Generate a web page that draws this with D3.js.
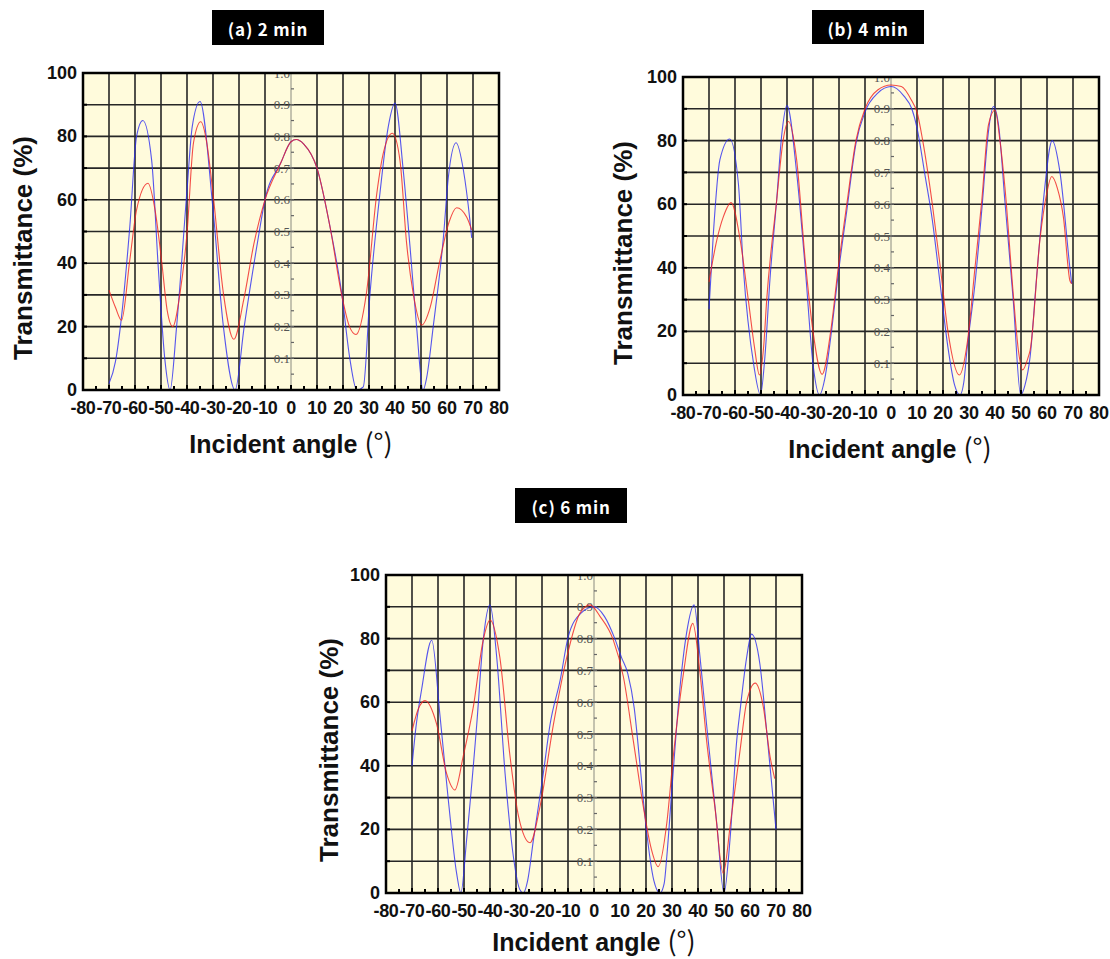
<!DOCTYPE html>
<html>
<head>
<meta charset="utf-8">
<script src="https://cdn.jsdelivr.net/npm/d3@7"></script>
<style>
  body { margin: 0; background: #fff; }
  svg { display: block; }
</style>
</head>
<body>
<svg id="chart" width="1110" height="959"></svg>
<script>
// axis ticks
const xTicks = [-80, -70, -60, -50, -40, -30, -20, -10, 0, 10, 20, 30, 40, 50, 60, 70, 80];
const yTicks = [0, 20, 40, 60, 80, 100];
const innerTicks = [0.1, 0.2, 0.3, 0.4, 0.5, 0.6, 0.7, 0.8, 0.9, 1.0];

// (a) 2 min
const angleA_blue = [-70, -67.5, -65.2, -62, -59.4, -57, -53.6, -51, -48.5, -46.5, -44, -40, -38, -35, -30, -26, -21.5, -18, -13, -10, -4, 0, 2, 5, 10, 15, 19.5, 22.7, 25.3, 27.8, 30.4, 34.2, 37.4, 40, 43.2, 45.8, 48.3, 50.8, 52.2, 54.7, 58.6, 60.5, 63.5, 66.3, 68.8, 69.5];
const transA_blue = [2, 9, 23, 51.5, 80, 85, 72.5, 38, 9.5, 0, 20, 63, 83, 91, 57, 20, 0, 20, 46, 60, 71.5, 78.3, 79, 77.5, 70, 51.5, 30.5, 9.5, 0, 1, 30.5, 62, 83, 90.5, 69, 45, 20, 0, 4, 20, 48, 67, 78, 69.4, 53.6, 48];
const angleA_red = [-70, -67.5, -65.2, -62, -59.4, -55, -52.3, -49.8, -47.6, -45.5, -42.7, -40, -37.5, -34.7, -32.4, -30, -26, -22, -18.2, -14.3, -10, -4, 0, 2, 5, 10, 15, 19.5, 22.5, 25, 29, 33, 35.5, 39, 41.9, 44.5, 47, 50.3, 53.5, 57.3, 60.8, 63.7, 67.6, 69.5];
const transA_red = [31.5, 26, 22, 41, 56.8, 65.2, 56.8, 41, 25, 20, 30.5, 49.4, 78, 84.6, 78, 62, 30.5, 16, 28.4, 46, 60, 71.5, 78.3, 79, 77.5, 70, 51.5, 30, 20, 17.5, 30.5, 62, 74.7, 81, 72.5, 46, 30.5, 20.5, 26, 41, 53, 57.5, 54.5, 50.5];

// (b) 4 min
const angleB_blue = [-70, -68.3, -65.8, -62, -58.7, -56.8, -52.7, -50.2, -48.5, -46.5, -44, -42, -40, -36.3, -33, -29.9, -27.5, -25.5, -23.2, -20.3, -17, -13.5, -10, -5, 0, 5, 8, 10, 13.1, 15.9, 18.5, 21.9, 24.5, 26.5, 28, 29.2, 32.3, 34.9, 37.5, 39.4, 41.5, 43.8, 47, 49.9, 51.5, 53.5, 56, 58.6, 62, 65, 68.8, 69.5];
const transB_blue = [27, 51, 74, 80.5, 66.5, 40, 9, 0, 12, 37, 61, 82, 91, 70, 40, 9, 0, 5, 18, 38, 58, 79, 89, 95, 97, 94, 90, 84, 69, 55, 37.7, 15, 3, 0, 4, 14, 35, 58, 83, 90.7, 84, 61, 30, 0, 3, 12, 37, 61, 80, 70, 40, 35];
const angleB_red = [-70, -67, -64.5, -61.5, -58, -54.9, -52.5, -50.6, -49, -47.8, -44, -41.5, -39.5, -36.3, -33, -30, -26.5, -23.2, -20.3, -17, -13.5, -10, -5, 0, 4, 8, 10, 12.2, 15.9, 19, 21.9, 26.3, 29.4, 32.3, 34.9, 37.5, 40, 41.9, 43.8, 47, 49, 50.6, 52.8, 53.5, 57.3, 59.9, 61.8, 64, 66.3, 68.8, 69.5];
const transB_red = [35.6, 48.7, 56, 60.5, 48.7, 30, 15, 6.3, 15, 30, 61, 80, 86, 74, 42.5, 20, 6.5, 20, 40, 60, 80, 90, 96, 97.5, 97, 92.5, 89, 80, 60, 40, 20, 6.3, 16.8, 40, 61, 85, 89.6, 80, 65.5, 32, 14, 7.9, 12, 14, 49, 63.4, 68.7, 65, 56, 36, 35];

// (c) 6 min
const angleC_blue = [-70, -68.5, -66.3, -62.4, -59.2, -56, -52.8, -51.2, -49, -45.1, -42.6, -40, -37.4, -34.2, -31, -28.5, -27.2, -25.5, -23.3, -19.5, -16.9, -13, -9.9, -5, 0, 4, 8, 10.6, 13, 15.5, 17.5, 20, 23, 25.4, 27, 28, 29.9, 33, 35.6, 38.5, 40.8, 43.3, 47.2, 50, 52.3, 54.9, 56.2, 58.7, 60.6, 63.8, 66.4, 70];
const transC_blue = [40, 52, 64, 79.5, 55.5, 29, 6, 0, 16.7, 53, 79.6, 90.6, 74, 37.6, 11.4, 1, 0, 4, 16.7, 37.6, 53, 67, 80.6, 88, 90, 87, 80, 74, 69, 58, 42, 21, 4, 0, 3, 11.4, 32, 64, 81.7, 90.6, 74, 53, 22, 0, 16.7, 48, 57.5, 74, 81.4, 72, 51, 20];
const angleC_red = [-70, -67.5, -65, -60.5, -56.7, -53.5, -50.3, -46.4, -42.6, -40, -36.2, -32.3, -29, -24.6, -20.8, -15.6, -10.5, -5.4, -1.5, 2.3, 7.4, 11.3, 15.1, 19, 22, 24.7, 28, 30.5, 34.4, 38, 40.8, 43.3, 46.5, 49.7, 52.5, 56.2, 58.7, 62, 65.1, 67.7, 69.5];
const transC_red = [51, 58, 60.5, 53, 37.6, 32.4, 43, 58.6, 79.6, 85.8, 74, 43, 24, 15.8, 27, 53, 74, 88, 90.6, 87, 79.6, 68, 48, 27, 14, 8.3, 22, 43, 69, 84.8, 69, 48, 27, 6.2, 22, 45, 60, 66, 58.6, 43, 36];

const panels = [
  { id: 'a', title: '(a) 2 min', left: 83, right: 499, top: 73, bottom: 390,
    box: [212, 10, 112, 35], yLabel: [23, 248], xLabel: [291, 453],
    blue: [angleA_blue, transA_blue], red: [angleA_red, transA_red] },
  { id: 'b', title: '(b) 4 min', left: 683, right: 1099, top: 77, bottom: 395,
    box: [812, 10, 112, 34], yLabel: [623, 253], xLabel: [890, 458],
    blue: [angleB_blue, transB_blue], red: [angleB_red, transB_red] },
  { id: 'c', title: '(c) 6 min', left: 386, right: 802, top: 575, bottom: 893,
    box: [515, 488, 112, 35], yLabel: [329, 750], xLabel: [594, 951],
    blue: [angleC_blue, transC_blue], red: [angleC_red, transC_red] }
];

const svg = d3.select('#chart');
const boldFont = '"Liberation Sans", Arial, sans-serif';

panels.forEach(drawPanel);

function drawPanel(p) {
  const x = d3.scaleLinear().domain([-80, 80]).range([p.left, p.right]);
  const y = d3.scaleLinear().domain([0, 100]).range([p.bottom, p.top]);
  const w = p.right - p.left, h = p.bottom - p.top;
  const g = svg.append('g');

  // title box
  g.append('rect')
    .attr('x', p.box[0]).attr('y', p.box[1])
    .attr('width', p.box[2]).attr('height', p.box[3])
    .attr('fill', '#000');
  g.append('text')
    .attr('x', p.box[0] + p.box[2] / 2)
    .attr('y', p.box[1] + p.box[3] / 2 + 1)
    .attr('text-anchor', 'middle')
    .attr('dominant-baseline', 'central')
    .style('font-family', '"Noto Sans CJK KR", "Noto Sans", sans-serif')
    .style('font-weight', 'bold')
    .style('font-size', '17px')
    .style('letter-spacing', '0.8px')
    .style('fill', '#fff')
    .text(p.title);

  // plot background
  g.append('rect')
    .attr('x', p.left).attr('y', p.top)
    .attr('width', w).attr('height', h)
    .attr('fill', '#fffbdc');

  const clipId = 'clip-' + p.id;
  svg.append('clipPath').attr('id', clipId)
    .append('rect')
    .attr('x', p.left).attr('y', p.top)
    .attr('width', w).attr('height', h);

  // grid
  const gridX = d3.range(-70, 71, 10).filter(d => d !== 0);
  const gridY = d3.range(10, 91, 10);
  g.append('g').selectAll('line').data(gridX).enter().append('line')
    .attr('x1', d => x(d)).attr('x2', d => x(d))
    .attr('y1', p.top).attr('y2', p.bottom)
    .attr('stroke', '#262626').attr('stroke-width', 1.6);
  g.append('g').selectAll('line').data(gridY).enter().append('line')
    .attr('x1', p.left).attr('x2', p.right)
    .attr('y1', d => y(d)).attr('y2', d => y(d))
    .attr('stroke', '#262626').attr('stroke-width', 1.6);

  // inner fraction axis at 0 degrees
  const inner = g.append('g').attr('clip-path', `url(#${clipId})`);
  inner.append('line')
    .attr('x1', x(0)).attr('x2', x(0))
    .attr('y1', p.top).attr('y2', p.bottom)
    .attr('stroke', '#8a8a80').attr('stroke-width', 1);
  inner.selectAll('line.it').data(d3.range(0.05, 1.0, 0.05)).enter().append('line')
    .attr('x1', x(0)).attr('x2', x(0) + 3)
    .attr('y1', d => y(d * 100)).attr('y2', d => y(d * 100))
    .attr('stroke', '#666').attr('stroke-width', 1.2);
  inner.selectAll('text').data(innerTicks).enter().append('text')
    .attr('x', x(0) - 1)
    .attr('y', d => y(d * 100))
    .attr('text-anchor', 'end')
    .attr('dominant-baseline', 'central')
    .style('font-family', '"Liberation Serif", "DejaVu Serif", serif')
    .style('font-size', '13px')
    .style('fill', '#555')
    .text(d => d.toFixed(1));

  // curves
  const line = d3.line()
    .x(d => x(d[0]))
    .y(d => y(d[1]))
    .curve(d3.curveMonotoneX);
  const curves = g.append('g').attr('clip-path', `url(#${clipId})`);
  const series = [
    { data: d3.zip(p.blue[0], p.blue[1]), color: '#2b2bf0' },
    { data: d3.zip(p.red[0], p.red[1]), color: '#f02020' }
  ];
  curves.selectAll('path').data(series).enter().append('path')
    .attr('d', d => line(d.data))
    .attr('fill', 'none')
    .attr('stroke', d => d.color)
    .attr('stroke-width', 1.1)
    .attr('stroke-opacity', 0.8);

  // frame
  g.append('rect')
    .attr('x', p.left).attr('y', p.top)
    .attr('width', w).attr('height', h)
    .attr('fill', 'none')
    .attr('stroke', '#000').attr('stroke-width', 2.5);

  // inward ticks
  g.append('g').selectAll('line').data(d3.range(-80, 81, 5)).enter().append('line')
    .attr('x1', d => x(d)).attr('x2', d => x(d))
    .attr('y1', p.bottom).attr('y2', d => p.bottom - (d % 10 === 0 ? 5 : 4))
    .attr('stroke', '#000').attr('stroke-width', 2);
  g.append('g').selectAll('line').data(d3.range(0, 101, 10)).enter().append('line')
    .attr('x1', p.left).attr('x2', p.left + 4)
    .attr('y1', d => y(d)).attr('y2', d => y(d))
    .attr('stroke', '#000').attr('stroke-width', 2);

  // tick labels
  g.append('g').selectAll('text').data(xTicks).enter().append('text')
    .attr('x', d => x(d))
    .attr('y', p.bottom + 24)
    .attr('text-anchor', 'middle')
    .style('font-family', boldFont)
    .style('font-weight', 'bold')
    .style('font-size', '18px')
    .style('letter-spacing', '-0.3px')
    .style('fill', '#111')
    .text(d => d);
  g.append('g').selectAll('text').data(yTicks).enter().append('text')
    .attr('x', p.left - 6)
    .attr('y', d => y(d) + 6)
    .attr('text-anchor', 'end')
    .style('font-family', boldFont)
    .style('font-weight', 'bold')
    .style('font-size', '18px')
    .style('fill', '#111')
    .text(d => d);

  // axis titles
  g.append('text')
    .attr('transform', `translate(${p.yLabel[0]},${p.yLabel[1]}) rotate(-90)`)
    .attr('text-anchor', 'middle')
    .attr('dominant-baseline', 'central')
    .style('font-family', boldFont)
    .style('font-weight', 'bold')
    .style('font-size', '26px')
    .style('fill', '#111')
    .text('Transmittance (%)');
  const xt = g.append('text')
    .attr('x', p.xLabel[0])
    .attr('y', p.xLabel[1])
    .attr('text-anchor', 'middle')
    .style('font-family', boldFont)
    .style('font-weight', 'bold')
    .style('font-size', '25px')
    .style('fill', '#111');
  xt.append('tspan').text('Incident angle ');
  xt.append('tspan')
    .style('font-family', '"Noto Sans CJK KR", sans-serif')
    .style('font-weight', 'normal')
    .style('font-size', '27px')
    .text('(°)');
}
</script>
</body>
</html>
